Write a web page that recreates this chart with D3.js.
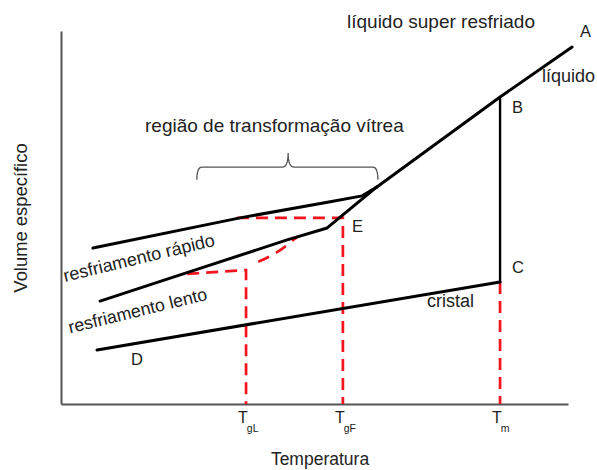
<!DOCTYPE html>
<html>
<head>
<meta charset="utf-8">
<script src="https://cdn.jsdelivr.net/npm/d3@7"></script>
<style>
	body { margin: 0; background: #fff; }
	svg text { font-family: 'Liberation Sans', Arial, sans-serif; fill: #222; }
</style>
</head>
<body>
<div id="chart"></div>
<script>
// values, arbitrary units: temperatura 0-100, volume 0-100
var liquido = [[100.8, 95.7], [86.6, 82.3], [62.3, 58.2]];
var rapido = [[6.3, 41.8], [35.3, 49.9], [53.1, 54.2], [59.4, 55.8], [62.3, 58.2]];
var lento = [[7.7, 27.6], [23.5, 34.6], [44.6, 44.0], [52.5, 47.2], [55.6, 50.7], [62.3, 58.2]];
var cristal = [[7.1, 14.5], [86.6, 32.7]];
var fusao = [[86.6, 82.3], [86.6, 32.7]];

var tgL = 36.5;
var tgF = 55.6;
var tm = 86.6;
var guiaL = [[24.9, 34.9], [tgL, 35.9], [tgL, 0]];
var guiaF = [[34.7, 49.9], [tgF, 49.9], [tgF, 0]];
var guiaM = [[tm, 32.7], [tm, 0]];
var curvaL = [[38.9, 38.1], [41.6, 39.9], [43.8, 41.8], [45.8, 44.0], [46.7, 44.9]];

var pontos = [
	{ name: 'A', t: 100.8, v: 95.7 },
	{ name: 'B', t: 86.6, v: 82.3 },
	{ name: 'C', t: 86.6, v: 32.7 },
	{ name: 'D', t: 7.1, v: 14.5 },
	{ name: 'E', t: tgF, v: 49.9 }
];
var ticks = [
	{ t: tgL, main: 'T', sub: 'gL' },
	{ t: tgF, main: 'T', sub: 'gF' },
	{ t: tm, main: 'T', sub: 'm' }
];

drawChart();

function drawChart() {
	var width = 597;
	var height = 470;

	var svg = d3.select('#chart')
		.append('svg')
		.attr('width', width)
		.attr('height', height);

	var x = d3.scaleLinear().domain([0, 100]).range([61, 568]);
	var y = d3.scaleLinear().domain([0, 100]).range([404, 31]);

	var line = d3.line()
		.x(function(d) { return x(d[0]); })
		.y(function(d) { return y(d[1]); });

	// axes, no ticks
	svg.append('g')
		.attr('transform', 'translate(0,' + y(0) + ')')
		.call(d3.axisBottom(x).tickValues([]).tickSizeOuter(0));
	svg.append('g')
		.attr('transform', 'translate(' + x(0) + ',0)')
		.call(d3.axisLeft(y).tickValues([]).tickSizeOuter(0));
	svg.selectAll('.domain')
		.attr('stroke', '#555')
		.attr('stroke-width', 2);

	// red guides
	[guiaL, guiaF, guiaM].forEach(function(g) {
		svg.append('path')
			.attr('d', line(g))
			.attr('fill', 'none')
			.attr('stroke', '#f5141e')
			.attr('stroke-width', 2.7)
			.attr('stroke-dasharray', '12,7');
	});
	svg.append('path')
		.attr('d', line.curve(d3.curveMonotoneX)(curvaL))
		.attr('fill', 'none')
		.attr('stroke', '#f5141e')
		.attr('stroke-width', 2.7)
		.attr('stroke-dasharray', '12,8');
	line.curve(d3.curveLinear);

	// black curves
	[liquido, rapido, lento, cristal].forEach(function(c) {
		svg.append('path')
			.attr('d', line(c))
			.attr('fill', 'none')
			.attr('stroke', '#000')
			.attr('stroke-width', 3)
			.attr('stroke-linejoin', 'round')
			.attr('stroke-linecap', 'round');
	});
	svg.append('path')
		.attr('d', line(fusao))
		.attr('fill', 'none')
		.attr('stroke', '#000')
		.attr('stroke-width', 2.4);

	// brace over the transformation region
	var xl = x(26.8), xr = x(62.5), xm = x(44.8);
	var yTop = y(63.5), yEnd = y(60.1), yPeak = y(67.3);
	var b = d3.path();
	b.moveTo(xl, yEnd);
	b.quadraticCurveTo(xl, yTop, xl + 5, yTop);
	b.lineTo(xm - 6, yTop);
	b.quadraticCurveTo(xm, yTop, xm, yPeak);
	b.quadraticCurveTo(xm, yTop, xm + 6, yTop);
	b.lineTo(xr - 5, yTop);
	b.quadraticCurveTo(xr, yTop, xr, yEnd);
	svg.append('path')
		.attr('d', b.toString())
		.attr('fill', 'none')
		.attr('stroke', '#555')
		.attr('stroke-width', 1.3);

	// point letters
	var offsets = { A: [8, -10], B: [12, 16], C: [12, -9], D: [34, 15], E: [9, 14] };
	svg.selectAll('.ponto')
		.data(pontos)
		.enter()
		.append('text')
		.attr('class', 'ponto')
		.attr('x', function(d) { return x(d.t) + offsets[d.name][0]; })
		.attr('y', function(d) { return y(d.v) + offsets[d.name][1]; })
		.style('font-size', '16.5px')
		.text(function(d) { return d.name; });

	// temperature marks under the axis
	var tk = svg.selectAll('.tick-label')
		.data(ticks)
		.enter()
		.append('text')
		.attr('class', 'tick-label')
		.attr('x', function(d) { return x(d.t) - 8; })
		.attr('y', 423);
	tk.append('tspan')
		.style('font-size', '16px')
		.text(function(d) { return d.main; });
	tk.append('tspan')
		.attr('dx', -1)
		.attr('dy', 9)
		.style('font-size', '10.5px')
		.text(function(d) { return d.sub; });

	// free text
	var texts = [
		{ s: 'líquido super resfriado', px: 347, py: 28, size: 19, rot: 0 },
		{ s: 'líquido', px: 542, py: 82, size: 18, rot: 0 },
		{ s: 'região de transformação vítrea', px: 145, py: 132, size: 19, rot: 0 },
		{ s: 'resfriamento rápido', px: 65, py: 282, size: 18, rot: -13.6 },
		{ s: 'resfriamento lento', px: 70, py: 333.5, size: 17.8, rot: -13.8 },
		{ s: 'cristal', px: 427, py: 307, size: 18, rot: 0 }
	];
	texts.forEach(function(d) {
		svg.append('text')
			.attr('transform', 'translate(' + d.px + ',' + d.py + ') rotate(' + d.rot + ')')
			.style('font-size', d.size + 'px')
			.text(d.s);
	});

	svg.append('text')
		.attr('x', 320)
		.attr('y', 465)
		.attr('text-anchor', 'middle')
		.style('font-size', '17.5px')
		.text('Temperatura');

	svg.append('text')
		.attr('transform', 'translate(27,218) rotate(-90)')
		.attr('text-anchor', 'middle')
		.style('font-size', '18.4px')
		.text('Volume específico');
}
</script>
</body>
</html>
